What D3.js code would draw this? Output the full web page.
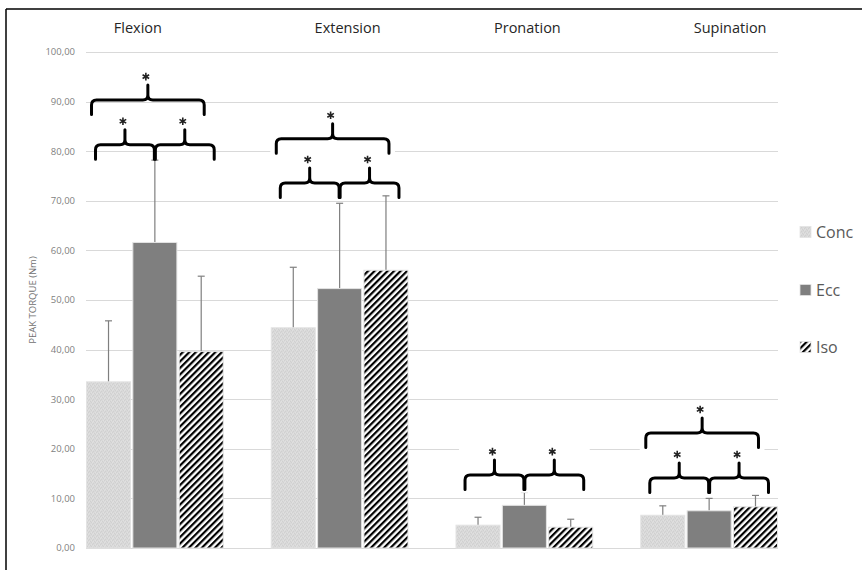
<!DOCTYPE html>
<html>
<head>
<meta charset="utf-8">
<script src="https://cdn.jsdelivr.net/npm/d3@7/dist/d3.min.js"></script>
<style>
  html, body { margin: 0; padding: 0; background: #fff; }
  svg { display: block; }
</style>
</head>
<body>
<svg id="chart" width="862" height="570"></svg>
<script>
// ---------------- DATA ----------------
const categories = ["Flexion", "Extension", "Pronation", "Supination"];
const seriesNames = ["Conc", "Ecc", "Iso"];
const concValues = [33.5, 44.4, 4.6, 6.6];
const eccValues  = [61.6, 52.3, 8.6, 7.5];
const isoValues  = [39.6, 56.0, 4.2, 8.3];
const concSD = [12.3, 12.2, 1.6, 1.9];
const eccSD  = [16.6, 17.2, 2.6, 2.5];
const isoSD  = [15.2, 15.0, 1.6, 2.3];
const yTicks = [0, 10, 20, 30, 40, 50, 60, 70, 80, 90, 100];
const yTitle = "PEAK TORQUE (Nm)";

// significance braces: category, from series, to series, level (value units)
const braceCategory = ["Flexion", "Flexion", "Flexion", "Extension", "Extension", "Extension", "Pronation", "Pronation", "Supination", "Supination", "Supination"];
const braceFrom     = ["Conc", "Conc", "Ecc", "Conc", "Conc", "Ecc", "Conc", "Ecc", "Conc", "Conc", "Ecc"];
const braceTo       = ["Iso",  "Ecc",  "Iso", "Iso",  "Ecc",  "Iso", "Ecc",  "Iso", "Iso",  "Ecc",  "Iso"];
const braceLevel    = [90.3, 81.3, 81.3, 82.5, 73.6, 73.6, 14.7, 14.7, 23.2, 14.1, 14.1];
const braceLabel    = ["*", "*", "*", "*", "*", "*", "*", "*", "*", "*", "*"];

// ---------------- LAYOUT ----------------
const svg = d3.select("#chart");
const W = 862, H = 570;
const plotLeft = 86.5, plotRight = 777.5, plotTop = 52, plotBottom = 548;
const titleOffset = { Flexion: -17, Extension: 8, Pronation: 3, Supination: 21 };
const maskedBraces = [false, false, false, true, false, false, true, true, true, false, false];

const valuesBySeries = { Conc: concValues, Ecc: eccValues, Iso: isoValues };
const sdBySeries = { Conc: concSD, Ecc: eccSD, Iso: isoSD };

const x0 = d3.scaleBand().domain(categories).range([plotLeft, plotRight]).paddingInner(0.26).paddingOuter(0);
const x1 = d3.scaleBand().domain(seriesNames).range([0, x0.bandwidth()]).paddingInner(0.05);
const y = d3.scaleLinear().domain([0, 100]).range([plotBottom, plotTop]);

// patterns
const defs = svg.append("defs");
const concPat = defs.append("pattern").attr("id", "concPat").attr("patternUnits", "userSpaceOnUse")
  .attr("width", 4).attr("height", 4);
concPat.append("rect").attr("width", 4).attr("height", 4).attr("fill", "#d9d9d9");
[[0,0],[2,1],[1,3],[3,2]].forEach(p => concPat.append("rect").attr("x", p[0]).attr("y", p[1]).attr("width", 1).attr("height", 1).attr("fill", "#d0d0d0"));
[[1,1],[3,0],[0,2]].forEach(p => concPat.append("rect").attr("x", p[0]).attr("y", p[1]).attr("width", 1).attr("height", 1).attr("fill", "#e0e0e0"));

const isoPat = defs.append("pattern").attr("id", "isoPat").attr("patternUnits", "userSpaceOnUse")
  .attr("width", 4.6).attr("height", 10).attr("patternTransform", "rotate(45)");
isoPat.append("rect").attr("width", 4.6).attr("height", 10).attr("fill", "#fff");
isoPat.append("rect").attr("width", 2.2).attr("height", 10).attr("fill", "#000");

const fills = { Conc: "url(#concPat)", Ecc: "#7f7f7f", Iso: "url(#isoPat)" };

// frame (cropped figure border)
svg.append("line").attr("x1", 6).attr("x2", 6).attr("y1", 9).attr("y2", H).attr("stroke", "#000").attr("stroke-width", 1.5);
svg.append("line").attr("x1", 6).attr("x2", W).attr("y1", 9).attr("y2", 9).attr("stroke", "#000").attr("stroke-width", 1.5);

// gridlines
svg.append("g").selectAll("line").data(yTicks).join("line")
  .attr("x1", plotLeft - 0.5).attr("x2", plotRight + 0.5)
  .attr("y1", d => Math.round(y(d)) + 0.5).attr("y2", d => Math.round(y(d)) + 0.5)
  .attr("stroke", "#d9d9d9").attr("stroke-width", 1);

// y axis labels
const fmt = d => d3.format(".2f")(d).replace(".", ",");
svg.append("g").selectAll("text").data(yTicks).join("text")
  .attr("x", 75).attr("y", d => y(d)).attr("dy", "0.35em")
  .attr("text-anchor", "end")
  .attr("font-family", "Open Sans, Liberation Sans, sans-serif")
  .attr("font-size", 9.5).attr("fill", "#7f7f7f")
  .text(fmt);

svg.append("text")
  .attr("transform", `translate(36,300) rotate(-90)`)
  .attr("text-anchor", "middle")
  .attr("font-family", "Open Sans, Liberation Sans, sans-serif")
  .attr("font-size", 9.5).attr("fill", "#6f6f6f")
  .text(yTitle);

// category titles
svg.append("g").selectAll("text").data(categories).join("text")
  .attr("x", d => x0(d) + x0.bandwidth() / 2 + titleOffset[d])
  .attr("y", 28).attr("dy", "0.35em")
  .attr("text-anchor", "middle")
  .attr("font-family", "Open Sans, Liberation Sans, sans-serif")
  .attr("font-size", 14.5).attr("fill", "#262626")
  .text(d => d);

// bars
const barRows = [];
categories.forEach((c, i) => seriesNames.forEach(s => barRows.push({ c, s, v: valuesBySeries[s][i], sd: sdBySeries[s][i] })));

// error bars (plus only)
const eg = svg.append("g");
eg.selectAll("line.v").data(barRows).join("line").attr("class", "v")
  .attr("x1", d => x0(d.c) + x1(d.s) + x1.bandwidth() / 2)
  .attr("x2", d => x0(d.c) + x1(d.s) + x1.bandwidth() / 2)
  .attr("y1", d => y(d.v)).attr("y2", d => y(d.v + d.sd))
  .attr("stroke", "#7f7f7f").attr("stroke-width", 1.2);
eg.selectAll("line.c").data(barRows).join("line").attr("class", "c")
  .attr("x1", d => x0(d.c) + x1(d.s) + x1.bandwidth() / 2 - 3.5)
  .attr("x2", d => x0(d.c) + x1(d.s) + x1.bandwidth() / 2 + 3.5)
  .attr("y1", d => y(d.v + d.sd)).attr("y2", d => y(d.v + d.sd))
  .attr("stroke", "#7f7f7f").attr("stroke-width", 1.2);

svg.append("g").selectAll("rect").data(barRows).join("rect")
  .attr("x", d => x0(d.c) + x1(d.s))
  .attr("y", d => y(d.v))
  .attr("width", x1.bandwidth())
  .attr("height", d => y(0) - y(d.v))
  .attr("fill", d => fills[d.s])
  .attr("stroke", "#e3e3e3").attr("stroke-width", 1);

// braces
const xc = (c, s) => x0(c) + x1(s) + x1.bandwidth() / 2;
const braceRows = braceCategory.map((c, i) => {
  const from = braceFrom[i], to = braceTo[i];
  let xa, xb;
  if (from === "Conc" && to === "Iso") { xa = xc(c, "Conc") - 17; xb = xc(c, "Iso") + 3; }
  else if (from === "Conc") { xa = xc(c, "Conc") - 13; xb = xc(c, "Ecc") - 0.5; }
  else { xa = xc(c, "Ecc") + 0.5; xb = xc(c, "Iso") + 13; }
  return { xa, xb, yl: y(braceLevel[i]), label: braceLabel[i], mask: maskedBraces[i] };
});
const drop = 14.5, rise = 15, r = 5;
function bracePath(d) {
  const xm = (d.xa + d.xb) / 2, yl = d.yl;
  return `M${d.xa},${yl + drop} L${d.xa},${yl + r} Q${d.xa},${yl} ${d.xa + r},${yl}` +
    ` L${xm - r},${yl} Q${xm},${yl} ${xm},${yl - r} L${xm},${yl - rise}` +
    ` M${xm},${yl - r} Q${xm},${yl} ${xm + r},${yl}` +
    ` L${d.xb - r},${yl} Q${d.xb},${yl} ${d.xb},${yl + r} L${d.xb},${yl + drop}`;
}
const bg = svg.append("g");
bg.selectAll("rect").data(braceRows.filter(d => d.mask)).join("rect")
  .attr("x", d => d.xa - 6).attr("width", d => d.xb - d.xa + 12)
  .attr("y", d => d.yl - rise - 14).attr("height", rise + 14 + drop + 3)
  .attr("fill", "#fff");
bg.selectAll("path").data(braceRows).join("path")
  .attr("d", bracePath)
  .attr("fill", "none").attr("stroke", "#000").attr("stroke-width", 3)
  .attr("stroke-linejoin", "round").attr("stroke-linecap", "round");
// asterisks
function starPath(cx, cy, rr) {
  let p = "";
  for (let k = 0; k < 3; k++) {
    const a = Math.PI / 2 + k * Math.PI / 3;
    p += `M${cx + rr * Math.cos(a)},${cy + rr * Math.sin(a)} L${cx - rr * Math.cos(a)},${cy - rr * Math.sin(a)} `;
  }
  return p;
}
bg.selectAll("path.star").data(braceRows).join("path").attr("class", "star")
  .attr("d", d => starPath((d.xa + d.xb) / 2 - 2, d.yl - rise - 8.5, 3.8))
  .attr("stroke", "#222").attr("stroke-width", 1.6).attr("fill", "none");

// legend
const legendY = { Conc: 232, Ecc: 290, Iso: 347 };
const lg = svg.append("g").selectAll("g").data(seriesNames).join("g")
  .attr("transform", d => `translate(800,${legendY[d]})`);
lg.append("rect").attr("x", 0).attr("y", -5.5).attr("width", 11).attr("height", 11)
  .attr("fill", d => fills[d]).attr("stroke", "#e3e3e3").attr("stroke-width", 0.8);
lg.append("text").attr("x", 16).attr("y", 0).attr("dy", "0.35em")
  .attr("font-family", "Open Sans, Liberation Sans, sans-serif")
  .attr("font-size", 16).attr("fill", "#595959")
  .text(d => d);
</script>
</body>
</html>
